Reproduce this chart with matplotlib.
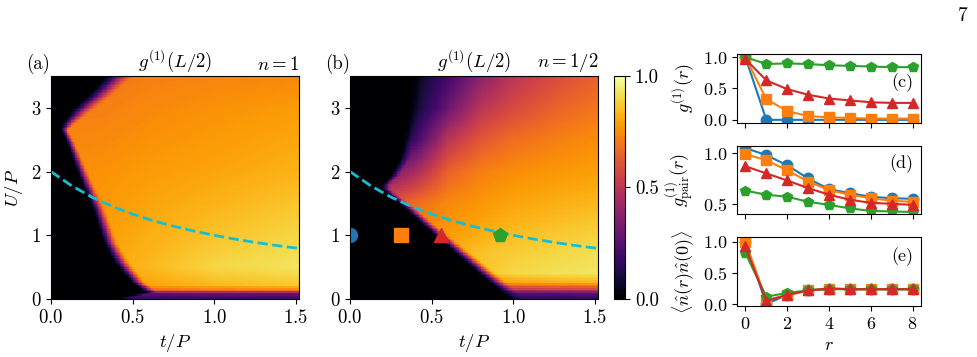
import numpy as np
import matplotlib
matplotlib.use("Agg")
from matplotlib import pyplot as plt

plt.rcParams['font.family'] = 'serif'
plt.rcParams['font.serif'] = ['cmr10']
plt.rcParams['mathtext.fontset'] = 'cm'
plt.rcParams['axes.unicode_minus'] = False
plt.rcParams['axes.formatter.use_mathtext'] = True

# ---- heat map (a): n = 1 ----
# left edge of the non-black region (t where it turns on) and its softness
a_edge_U = [0.0, 0.1, 0.25, 0.57, 0.88, 1.41, 1.93, 2.19, 2.45, 2.66, 2.77, 2.98, 3.24, 3.5]
a_edge_t = [0.45, 0.61, 0.53, 0.43, 0.36, 0.29, 0.20, 0.16, 0.12, 0.08, 0.11, 0.19, 0.31, 0.41]
a_edge_w = [0.09, 0.10, 0.10, 0.11, 0.10, 0.09, 0.08, 0.07, 0.06, 0.05, 0.10, 0.15, 0.18, 0.20]
# value of g1 right of the edge
a_grid_t = [0.0, 0.3, 0.6, 1.0, 1.52]
a_grid_U = [0.0, 0.08, 0.13, 0.2, 0.5, 1.0, 2.0, 3.0, 3.5]
a_grid_v = [[0.15, 0.17, 0.18, 0.19, 0.20],
            [0.28, 0.28, 0.28, 0.29, 0.30],
            [0.60, 0.60, 0.66, 0.70, 0.72],
            [0.75, 0.76, 0.80, 0.84, 0.87],
            [0.78, 0.80, 0.84, 0.90, 0.93],
            [0.77, 0.78, 0.82, 0.86, 0.90],
            [0.75, 0.76, 0.78, 0.80, 0.83],
            [0.72, 0.72, 0.74, 0.76, 0.78],
            [0.70, 0.70, 0.72, 0.73, 0.74]]

# ---- heat map (b): n = 1/2 ----
b_edge_U = [0.0, 0.15, 0.36, 0.62, 0.88, 1.09, 1.41, 1.72, 1.80, 1.93, 2.19, 2.71, 3.5]
b_edge_t = [1.00, 0.95, 0.85, 0.73, 0.61, 0.51, 0.37, 0.22, 0.22, 0.27, 0.33, 0.37, 0.41]
b_edge_w = [0.12, 0.12, 0.12, 0.11, 0.10, 0.09, 0.08, 0.06, 0.06, 0.07, 0.08, 0.08, 0.08]
b_grid_t = [0.2, 0.4, 0.6, 0.8, 1.0, 1.25, 1.52]
b_grid_U = [0.0, 0.08, 0.15, 0.25, 0.4, 0.7, 1.0, 1.5, 2.0, 2.5, 3.0, 3.5]
b_grid_v = [[0.10, 0.12, 0.14, 0.15, 0.16, 0.17, 0.18],
            [0.20, 0.22, 0.24, 0.25, 0.26, 0.26, 0.27],
            [0.45, 0.48, 0.50, 0.52, 0.54, 0.56, 0.58],
            [0.70, 0.72, 0.75, 0.78, 0.80, 0.82, 0.84],
            [0.75, 0.78, 0.82, 0.86, 0.90, 0.92, 0.93],
            [0.75, 0.78, 0.82, 0.86, 0.88, 0.90, 0.92],
            [0.70, 0.74, 0.78, 0.82, 0.85, 0.87, 0.89],
            [0.60, 0.68, 0.74, 0.77, 0.80, 0.82, 0.84],
            [0.30, 0.45, 0.65, 0.72, 0.75, 0.77, 0.79],
            [0.05, 0.20, 0.50, 0.62, 0.68, 0.72, 0.75],
            [0.00, 0.08, 0.30, 0.50, 0.58, 0.65, 0.70],
            [0.00, 0.05, 0.20, 0.38, 0.50, 0.58, 0.65]]

# dashed curve
curve_t = [0.0, 0.125, 0.25, 0.375, 0.5, 0.625, 0.75, 0.875, 1.0, 1.125, 1.25, 1.375, 1.52]
curve_U = [2.0, 1.78, 1.60, 1.455, 1.333, 1.23, 1.143, 1.067, 1.0, 0.941, 0.889, 0.842, 0.794]

# points marked in (b)
pts_t = [0.0, 0.31, 0.92, 0.56]
pts_U = [1.0, 1.0, 1.0, 1.0]
markers = ['o', 's', 'p', '^']
colors = ['tab:blue', 'tab:orange', 'tab:green', 'tab:red']

# ---- right panels ----
r = np.arange(9)
g1 = [[1.0, 0.0, 0.0, 0.0, 0.0, 0.0, 0.0, 0.0, 0.0],
      [1.0, 0.33, 0.14, 0.06, 0.04, 0.03, 0.02, 0.02, 0.02],
      [1.0, 0.89, 0.90, 0.89, 0.87, 0.86, 0.85, 0.84, 0.84],
      [0.97, 0.63, 0.49, 0.40, 0.34, 0.31, 0.28, 0.27, 0.27]]
g1pair = [[1.05, 0.98, 0.88, 0.75, 0.645, 0.605, 0.57, 0.555, 0.55],
          [0.99, 0.93, 0.83, 0.72, 0.635, 0.59, 0.555, 0.53, 0.52],
          [0.63, 0.59, 0.57, 0.52, 0.49, 0.455, 0.43, 0.425, 0.42],
          [0.87, 0.80, 0.73, 0.655, 0.59, 0.54, 0.51, 0.50, 0.49]]
nn = [[1.0, 0.0, 0.15, 0.22, 0.25, 0.24, 0.24, 0.24, 0.24],
      [1.0, 0.07, 0.14, 0.22, 0.25, 0.24, 0.24, 0.24, 0.24],
      [0.82, 0.12, 0.18, 0.22, 0.24, 0.24, 0.24, 0.24, 0.24],
      [0.93, 0.05, 0.15, 0.22, 0.25, 0.24, 0.24, 0.24, 0.24]]


def field(edge_U, edge_t, edge_w, gt, gU, gv, tt, UU):
    gv = np.array(gv)
    # value map: interp along t for every grid row, then along U
    rows = np.array([np.interp(tt, gt, row) for row in gv])
    bg = np.array([np.interp(UU, gU, rows[:, j]) for j in range(len(tt))]).T
    et = np.interp(UU, edge_U, edge_t)
    ew = np.interp(UU, edge_U, edge_w)
    s = np.clip((tt[None, :] - et[:, None]) / ew[:, None] + 0.5, 0, 1)
    s = s * s * (3 - 2 * s)
    return bg * s


tt = np.linspace(0, 1.52, 305)
UU = np.linspace(0, 3.5, 141)
img_a = field(a_edge_U, a_edge_t, a_edge_w, a_grid_t, a_grid_U, a_grid_v, tt, UU)
img_b = field(b_edge_U, b_edge_t, b_edge_w, b_grid_t, b_grid_U, b_grid_v, tt, UU)

fig = plt.figure(figsize=(9.78, 3.57), dpi=100)
ax_a = fig.add_axes([0.0521, 0.1625, 0.2536, 0.6246])
ax_b = fig.add_axes([0.3579, 0.1625, 0.2536, 0.6246])
cax = fig.add_axes([0.6278, 0.1625, 0.0113, 0.6246])

fs = 13.5
for ax, img, lab, nlab in [(ax_a, img_a, '(a)', '$n=1$'), (ax_b, img_b, '(b)', '$n=1/2$')]:
    im = ax.imshow(img, origin='lower', extent=[0, 1.52, 0, 3.5], aspect='auto',
                   cmap='inferno', vmin=0, vmax=1, interpolation='nearest')
    ax.plot(curve_t, curve_U, '--', color='tab:cyan', lw=2)
    ax.set_xlim(0, 1.52)
    ax.set_ylim(0, 3.5)
    ax.set_xticks([0, 0.5, 1.0, 1.5])
    ax.set_yticks([0, 1, 2, 3])
    ax.tick_params(labelsize=fs)
    ax.set_xlabel('$t/P$', fontsize=fs)
    ax.text(-0.1, 1.01, lab, transform=ax.transAxes, fontsize=fs, va='bottom', ha='left')
    ax.text(0.5, 1.01, '$g^{(1)}(L/2)$', transform=ax.transAxes, fontsize=fs, va='bottom', ha='center')
    ax.text(1.0, 1.01, nlab, transform=ax.transAxes, fontsize=fs, va='bottom', ha='right')
ax_a.set_ylabel('$U/P$', fontsize=fs)

for i in range(4):
    ax_b.plot(pts_t[i], pts_U[i], marker=markers[i], color=colors[i], ms=10, ls='none')

cb = fig.colorbar(im, cax=cax, ticks=[0, 0.5, 1.0])
cb.ax.tick_params(labelsize=fs)
cb.ax.set_yticklabels(['0.0', '0.5', '1.0'])

ax_c = fig.add_axes([0.7536, 0.6555, 0.1881, 0.1933])
ax_d = fig.add_axes([0.7536, 0.4006, 0.1881, 0.1905], sharex=ax_c)
ax_e = fig.add_axes([0.7536, 0.1429, 0.1881, 0.1933], sharex=ax_c)

fs2 = 13
for ax, data, lab, ylab, ly in [(ax_c, g1, '(c)', '$g^{(1)}(r)$', 0.58),
                                (ax_d, g1pair, '(d)', '$g^{(1)}_{\\rm pair}(r)$', 0.74),
                                (ax_e, nn, '(e)', '$\\langle\\hat{n}(r)\\hat{n}(0)\\rangle$', 0.71)]:
    for i in range(4):
        ax.plot(r, data[i], marker=markers[i], color=colors[i], ms=7.5, lw=1.5)
    ax.text(0.96, ly, lab, transform=ax.transAxes, fontsize=fs2, ha='right', va='center')
    ax.set_ylabel(ylab, fontsize=fs2)
    ax.tick_params(labelsize=fs2)

ax_c.set_ylim(-0.05, 1.05)
ax_c.set_yticks([0, 0.5, 1.0])
ax_d.set_ylim(0.4, 1.07)
ax_d.set_yticks([0.5, 1.0])
ax_e.set_ylim(-0.03, 1.08)
ax_e.set_yticks([0, 0.5, 1.0])
ax_e.set_xticks([0, 2, 4, 6, 8])
plt.setp(ax_c.get_xticklabels(), visible=False)
plt.setp(ax_d.get_xticklabels(), visible=False)
ax_e.set_xlabel('$r$', fontsize=fs2)

fig.text(0.989, 0.955, '7', fontsize=14, ha='right', va='center')

fig.savefig('out.png', dpi=100)
